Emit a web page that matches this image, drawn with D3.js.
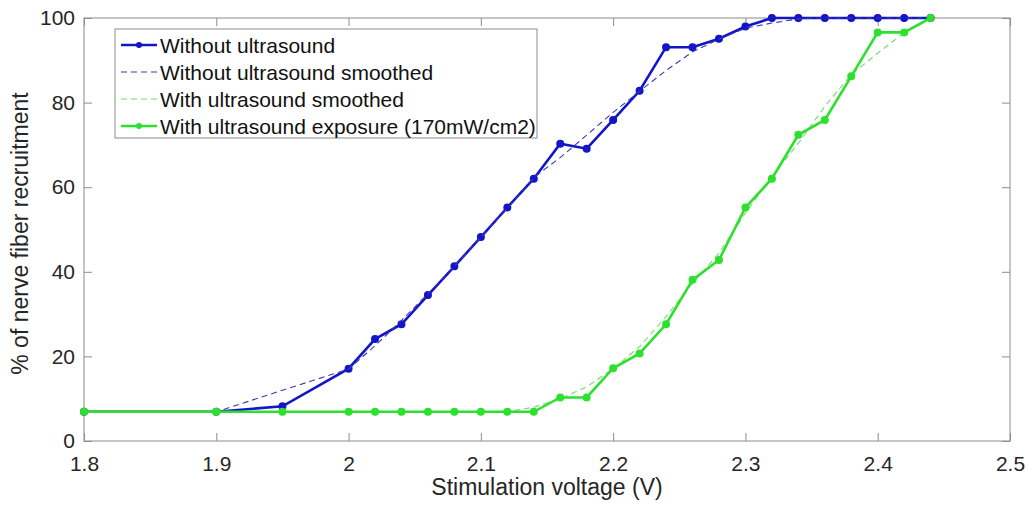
<!DOCTYPE html>
<html>
<head>
<meta charset="utf-8">
<script src="https://cdn.jsdelivr.net/npm/d3@7/dist/d3.min.js"></script>
<style>
  body { margin: 0; background: #fff; }
  svg { display: block; font-family: "Liberation Sans", Arial, sans-serif; }
  .axis path, .axis line { stroke: #8c8c8c; }
  .axis text { fill: #262626; font-size: 21px; }
</style>
</head>
<body>
<svg width="1030" height="508"></svg>
<script>
// stimulation voltage (V)
const voltages = [1.8, 1.9, 1.95, 2.0, 2.02, 2.04, 2.06, 2.08, 2.10, 2.12, 2.14, 2.16, 2.18,
                  2.20, 2.22, 2.24, 2.26, 2.28, 2.30, 2.32, 2.34, 2.36, 2.38, 2.40, 2.42, 2.44];

// % of nerve fiber recruitment
const withoutUS = [6.9, 6.9, 8.2, 17.1, 24.1, 27.6, 34.5, 41.3, 48.2, 55.2, 62.0, 70.3, 69.1,
                   75.9, 82.8, 93.1, 93.1, 95.1, 98.0, 100, 100, 100, 100, 100, 100, 100];
const withoutUSSmooth = [6.9, 6.9, 12.0, 17.0, 22.5, 28.5, 34.8, 41.3, 48.2, 55.0, 62.3, 67.0, 72.3,
                         77.7, 82.7, 87.6, 92.0, 95.0, 97.6, 98.8, 99.8, 100, 100, 100, 100, 100];
const withUSSmooth = [6.9, 6.9, 6.9, 6.9, 6.9, 6.9, 6.9, 6.9, 6.9, 6.9, 8.0, 10.0, 12.8,
                      17.1, 22.3, 29.4, 37.3, 44.4, 53.9, 62.5, 70.4, 79.1, 86.6, 91.7, 96.5, 100];
const withUS = [6.9, 6.9, 6.9, 6.9, 6.9, 6.9, 6.9, 6.9, 6.9, 6.9, 6.9, 10.3, 10.3,
                17.2, 20.7, 27.6, 38.1, 42.8, 55.2, 62.0, 72.4, 75.9, 86.2, 96.6, 96.6, 100];

const xTicks = [1.8, 1.9, 2.0, 2.1, 2.2, 2.3, 2.4, 2.5];
const yTicks = [0, 20, 40, 60, 80, 100];

const series = [
  { name: "Without ultrasound", values: withoutUS, color: "#1414c8", width: 2.6, dash: null, marker: true },
  { name: "Without ultrasound smoothed", values: withoutUSSmooth, color: "#3a3ab0", width: 1.1, dash: "6,4", marker: false },
  { name: "With ultrasound smoothed", values: withUSSmooth, color: "#74d874", width: 1.1, dash: "6,4", marker: false },
  { name: "With ultrasound exposure (170mW/cm2)", values: withUS, color: "#2ee02e", width: 2.6, dash: null, marker: true }
];

const svg = d3.select("svg");
const margin = { left: 84, right: 20, top: 18, bottom: 67 };
const width = 1030 - margin.left - margin.right;
const height = 508 - margin.top - margin.bottom;

const chart = svg.append("g")
  .attr("transform", `translate(${margin.left}, ${margin.top})`);

const x = d3.scaleLinear().domain([1.8, 2.5]).range([0, width]);
const y = d3.scaleLinear().domain([0, 100]).range([height, 0]);

// axes (box with inward ticks on all sides)
chart.append("g").attr("class", "axis")
  .attr("transform", `translate(0, ${height})`)
  .call(d3.axisBottom(x).tickValues(xTicks).tickSize(-8).tickSizeOuter(0).tickPadding(15).tickFormat(d3.format("~g")));
chart.append("g").attr("class", "axis")
  .call(d3.axisTop(x).tickValues(xTicks).tickSize(-8).tickSizeOuter(0).tickFormat(""));
chart.append("g").attr("class", "axis")
  .call(d3.axisLeft(y).tickValues(yTicks).tickSize(-8).tickSizeOuter(0).tickPadding(9));
chart.append("g").attr("class", "axis")
  .attr("transform", `translate(${width}, 0)`)
  .call(d3.axisRight(y).tickValues(yTicks).tickSize(-8).tickSizeOuter(0).tickFormat(""));

chart.selectAll(".axis .domain").remove();
chart.append("rect")
  .attr("width", width).attr("height", height)
  .attr("fill", "none").attr("stroke", "#8c8c8c").attr("stroke-width", 1);

const line = d3.line()
  .x((d, i) => x(voltages[i]))
  .y(d => y(d));

series.forEach(s => {
  chart.append("path")
    .datum(s.values)
    .attr("d", line)
    .attr("fill", "none")
    .attr("stroke", s.color)
    .attr("stroke-width", s.width)
    .attr("stroke-dasharray", s.dash);
  if (s.marker) {
    chart.append("g").selectAll("circle")
      .data(s.values)
      .enter()
      .append("circle")
      .attr("cx", (d, i) => x(voltages[i]))
      .attr("cy", d => y(d))
      .attr("r", 3.4)
      .attr("fill", s.color)
      .attr("stroke", s.color)
      .attr("stroke-width", 1.2);
  }
});

// axis labels
svg.append("text")
  .attr("x", margin.left + width / 2)
  .attr("y", 495)
  .attr("text-anchor", "middle")
  .attr("fill", "#262626")
  .style("font-size", "23px")
  .text("Stimulation voltage (V)");

svg.append("text")
  .attr("transform", `translate(28, ${margin.top + height / 2 + 4}) rotate(-90)`)
  .attr("text-anchor", "middle")
  .attr("fill", "#262626")
  .style("font-size", "23px")
  .text("% of nerve fiber recruitment");

// legend
const legend = svg.append("g").attr("transform", "translate(115, 29)");
legend.append("rect")
  .attr("width", 422).attr("height", 109)
  .attr("fill", "#fff").attr("stroke", "#8c8c8c");

const rows = legend.selectAll(".row")
  .data(series)
  .enter()
  .append("g")
  .attr("transform", (d, i) => `translate(0, ${16 + i * 27})`);

rows.append("line")
  .attr("x1", 6).attr("x2", 42)
  .attr("stroke", d => d.color)
  .attr("stroke-width", d => d.width)
  .attr("stroke-dasharray", d => d.dash);
rows.filter(d => d.marker).append("circle")
  .attr("cx", 24).attr("r", 3)
  .attr("fill", d => d.color);
rows.append("text")
  .attr("x", 45)
  .attr("dy", "0.36em")
  .attr("fill", "#111")
  .style("font-size", "21px")
  .text(d => d.name);
</script>
</body>
</html>
